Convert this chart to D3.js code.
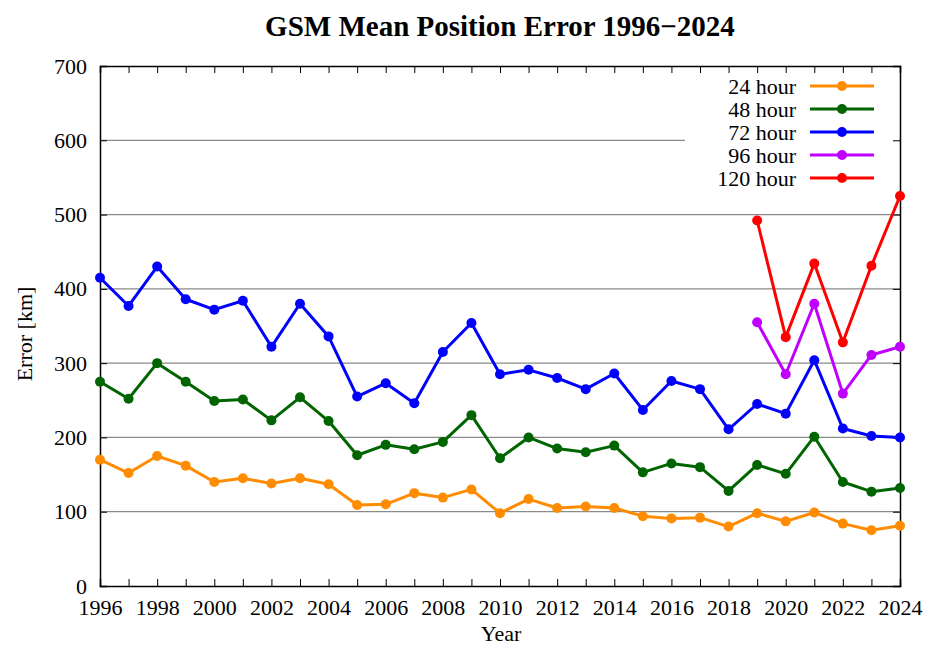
<!DOCTYPE html>
<html lang="en">
<head>
<meta charset="UTF-8" />
<title>GSM Mean Position Error 1996-2024</title>
<script src="https://cdnjs.cloudflare.com/ajax/libs/d3/7.8.2/d3.min.js"></script>
<style>
  body { margin: 0; padding: 0; background: #fff; }
  svg { display: block; font-family: "Liberation Serif", "DejaVu Serif", serif; }
</style>
</head>
<body>
<svg id="chart" width="930" height="650"></svg>
<script>
// ---- data ----
const years = d3.range(1996, 2025);
const h24 = [170, 152, 175, 162, 140, 145, 138, 145, 137, 109, 110, 125, 119, 130, 98, 117, 105, 107, 105, 94, 91, 92, 80, 98, 87, 99, 84, 75, 81];
const h48 = [275, 252, 300, 275, 249, 251, 223, 254, 222, 176, 190, 184, 194, 230, 172, 200, 185, 180, 189, 153, 165, 160, 128, 163, 151, 201, 140, 127, 132];
const h72 = [415, 377, 430, 386, 372, 384, 322, 380, 336, 255, 273, 246, 315, 354, 285, 291, 280, 265, 286, 237, 276, 265, 211, 245, 232, 304, 212, 202, 200];
const yearsLate = [2019, 2020, 2021, 2022, 2023, 2024];
const h96 = [355, 285, 380, 259, 311, 322];
const h120 = [492, 335, 434, 328, 431, 525];
const yTicks = [0, 100, 200, 300, 400, 500, 600, 700];

const series = [
  { name: "24 hour", color: "#ff8c00", x: years, y: h24 },
  { name: "48 hour", color: "#006400", x: years, y: h48 },
  { name: "72 hour", color: "#0000ff", x: years, y: h72 },
  { name: "96 hour", color: "#bf00ff", x: yearsLate, y: h96 },
  { name: "120 hour", color: "#ff0000", x: yearsLate, y: h120 }
];

// ---- layout ----
const svg = d3.select("#chart");
const margin = { left: 100, right: 30, top: 66, bottom: 64 };
const W = 930, H = 650;
const fs = 22;

const x = d3.scaleLinear().domain([1996, 2024]).range([margin.left, W - margin.right]);
const y = d3.scaleLinear().domain([0, 700]).range([H - margin.bottom, margin.top]);

// grid lines
svg.append("g")
  .selectAll("line")
  .data(yTicks.slice(1, -1))
  .join("line")
  .attr("x1", x(1996)).attr("x2", x(2024))
  .attr("y1", d => y(d)).attr("y2", d => y(d))
  .attr("stroke", "#8a8a8a")
  .attr("stroke-width", 1.2);

// legend background hides part of the grid
svg.append("rect")
  .attr("x", 685).attr("y", y(700) + 1)
  .attr("width", x(2024) - 686).attr("height", 124)
  .attr("fill", "#fff");

// axes (ticks inward, mirrored)
const tickLen = 7;
const xAxisB = d3.axisBottom(x).tickValues(years).tickSize(-tickLen)
  .tickFormat(d => d % 2 === 0 ? d : "").tickPadding(13);
const xAxisT = d3.axisTop(x).tickValues(years).tickSize(-tickLen).tickFormat("");
const yAxisL = d3.axisLeft(y).tickValues(yTicks).tickSize(-tickLen).tickPadding(13);
const yAxisR = d3.axisRight(y).tickValues(yTicks).tickSize(-tickLen).tickFormat("");

function styleAxis(g) {
  g.selectAll("path").attr("stroke", "#000").attr("stroke-width", 1.5);
  g.selectAll("line").attr("stroke", "#000").attr("stroke-width", 1);
  g.selectAll("text").attr("font-family", "Liberation Serif, serif")
    .attr("font-size", fs).attr("fill", "#000");
}

svg.append("g").attr("transform", `translate(0,${y(0)})`).call(xAxisB).call(styleAxis);
svg.append("g").attr("transform", `translate(0,${y(700)})`).call(xAxisT).call(styleAxis);
svg.append("g").attr("transform", `translate(${x(1996)},0)`).call(yAxisL).call(styleAxis);
svg.append("g").attr("transform", `translate(${x(2024)},0)`).call(yAxisR).call(styleAxis);

// series
const line = d3.line().x(d => x(d[0])).y(d => y(d[1]));
series.forEach(s => {
  const pts = s.x.map((xv, i) => [xv, s.y[i]]);
  svg.append("path")
    .datum(pts)
    .attr("d", line)
    .attr("fill", "none")
    .attr("stroke", s.color)
    .attr("stroke-width", 3)
    .attr("stroke-linejoin", "round");
  svg.append("g")
    .selectAll("circle")
    .data(pts)
    .join("circle")
    .attr("cx", d => x(d[0]))
    .attr("cy", d => y(d[1]))
    .attr("r", 5)
    .attr("fill", s.color);
});

// legend
const leg = svg.append("g").attr("transform", "translate(0,86)");
series.forEach((s, i) => {
  const g = leg.append("g").attr("transform", `translate(0,${i * 23})`);
  g.append("text")
    .attr("x", 796).attr("y", 0).attr("dy", "0.35em")
    .attr("text-anchor", "end")
    .attr("font-size", fs)
    .text(s.name);
  g.append("line")
    .attr("x1", 810).attr("x2", 874)
    .attr("stroke", s.color).attr("stroke-width", 3);
  g.append("circle").attr("cx", 842).attr("r", 5).attr("fill", s.color);
});

// title and axis labels
svg.append("text")
  .attr("x", 500).attr("y", 36)
  .attr("text-anchor", "middle")
  .attr("font-size", 29).attr("font-weight", "bold")
  .text("GSM Mean Position Error 1996\u22122024");

svg.append("text")
  .attr("x", 501).attr("y", 641)
  .attr("text-anchor", "middle")
  .attr("font-size", fs)
  .text("Year");

svg.append("text")
  .attr("transform", "translate(32,334) rotate(-90)")
  .attr("text-anchor", "middle")
  .attr("font-size", fs)
  .text("Error [km]");
</script>
</body>
</html>
